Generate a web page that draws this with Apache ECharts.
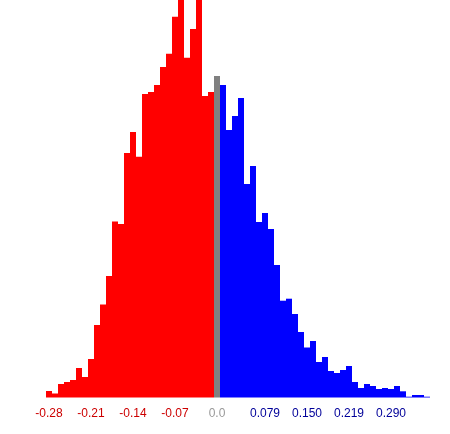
<!DOCTYPE html>
<html>
<head>
<meta charset="utf-8">
<script src="https://cdn.jsdelivr.net/npm/echarts@6/dist/echarts.min.js"></script>
<style>html,body{margin:0;padding:0;background:#fff;}#c{width:450px;height:434px;}</style>
</head>
<body>
<div id="c"></div>
<script>
const negBins = ['-0.28','-0.27','-0.26','-0.25','-0.24','-0.23','-0.22','-0.21','-0.20','-0.19','-0.18','-0.17','-0.16','-0.15','-0.14','-0.13','-0.12','-0.11','-0.10','-0.09','-0.08','-0.07','-0.06','-0.05','-0.04','-0.03','-0.02','-0.01'];
const zeroBin = ['0.0'];
const posBins = ['0.009','0.019','0.029','0.039','0.049','0.059','0.069','0.079','0.089','0.099','0.109','0.119','0.129','0.140','0.150','0.160','0.170','0.180','0.190','0.200','0.209','0.219','0.229','0.239','0.249','0.259','0.269','0.280','0.290','0.300','0.310','0.320','0.330','0.340','0.350'];
const negCounts = [6.5,4,13.5,15.5,17.5,29.5,20.5,38.5,72.5,93,121.5,176,173.5,244.5,265.5,240.8,303.5,305.5,312.5,330.5,343.8,380.8,420,339.8,368.5,410,301.5,305.5];
const zeroCount = [321.5];
const posCounts = [312.5,267.5,281.5,299.5,213.5,231.5,175.5,184.5,168.5,132.5,96.8,98.8,83.5,65.5,50,56.5,35.5,40.5,26.5,24.5,27.5,31.5,15.5,9.5,13.5,11.5,8.5,9.5,8.5,11.5,6.2,0.8,2.5,2.5,0.8];
const tickLabels = ['-0.28','-0.21','-0.14','-0.07','0.0','0.079','0.150','0.219','0.290'];

const categories = negBins.concat(zeroBin, posBins);
const counts = negCounts.concat(zeroCount, posCounts);
const nNeg = negBins.length;

const chart = echarts.init(document.getElementById('c'), null, {renderer: 'canvas'});
chart.setOption({
  animation: false,
  backgroundColor: '#ffffff',
  grid: {left: 46, right: 20, top: 0, bottom: 36.5, containLabel: false},
  xAxis: {
    type: 'category',
    data: categories,
    axisLine: {show: false},
    axisTick: {show: false},
    splitLine: {show: false},
    axisLabel: {
      interval: function (i, v) { return tickLabels.indexOf(v) >= 0; },
      margin: 10,
      fontSize: 12,
      fontFamily: 'Liberation Sans, Arial, sans-serif',
      color: function (v, i) {
        const x = parseFloat(v);
        if (x < 0) return '#cc0000';
        if (x === 0) return '#999999';
        return '#000099';
      }
    }
  },
  yAxis: {
    type: 'value',
    min: 0,
    max: 397.5,
    show: false
  },
  series: [{
    type: 'bar',
    data: counts,
    barCategoryGap: '0%',
    clip: true,
    itemStyle: {
      color: function (p) {
        if (p.dataIndex < nNeg) return '#ff0000';
        if (p.dataIndex === nNeg) return '#808080';
        return '#0000ff';
      }
    }
  }]
});
</script>
</body>
</html>
